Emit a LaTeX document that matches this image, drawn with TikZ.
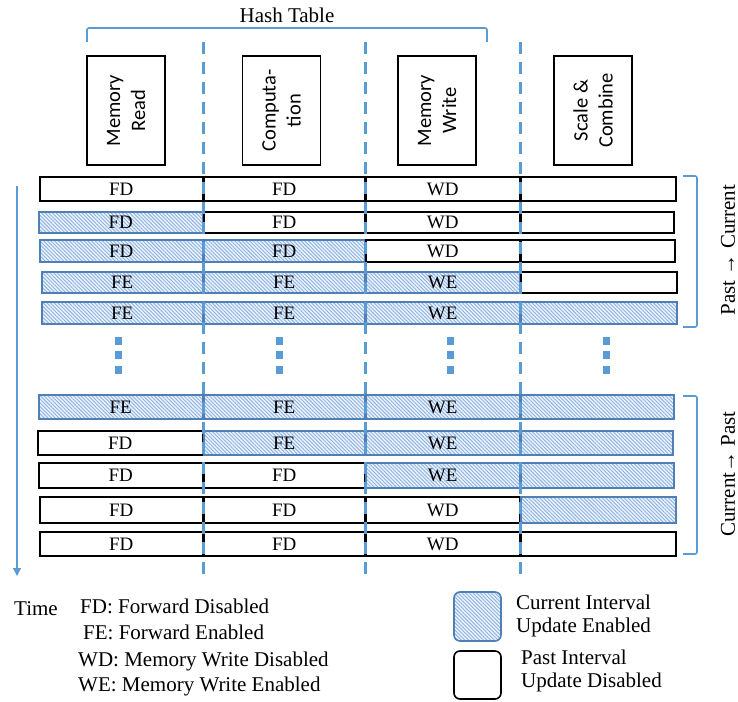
\documentclass[tikz,border=0pt]{standalone}
\usepackage{fontspec}
\setmainfont{Liberation Serif}
\newfontfamily\hdrfont{Carlito}
\usetikzlibrary{patterns.meta,arrows.meta}
\definecolor{dashblue}{HTML}{5B9BD5}
\definecolor{edgeblue}{HTML}{4F7FB5}
\definecolor{hatchbg}{HTML}{EAF1FA}
\definecolor{hatchfg}{HTML}{8DB3E2}
\newcommand\segfont{\fontsize{19}{20}\selectfont}
\newcommand\legfont{\fontsize{21}{24}\selectfont}
\begin{document}
\begin{tikzpicture}[x=1pt,y=-1pt,
  past/.style={draw=black,line width=1.6pt,fill=white},
  cur/.style={draw=edgeblue,line width=1.6pt,preaction={fill=hatchbg},
    pattern={Lines[angle=-45,distance=2.6pt,line width=0.9pt]},pattern color=hatchfg},
  stage/.style={draw=black,line width=1.6pt,rotate=90,align=center,
    minimum width=109pt,minimum height=78pt,inner sep=0pt,
    font=\hdrfont\fontsize{20.5}{25}\selectfont},
  divider/.style={dashblue,line width=3pt,dash pattern=on 12pt off 8pt},
  brace/.style={dashblue,line width=1.6pt,rounded corners=2pt},
  dotmark/.style={fill=dashblue,minimum width=7pt,minimum height=8pt,inner sep=0pt},
  legtext/.style={font=\legfont,anchor=west,inner sep=0pt}]
\useasboundingbox (0,0) rectangle (738,701);

% pipeline stages
\node[stage] (h1) at (126,110.5) {Memory\\Read};
\node[stage] (h2) at (281.5,110.5) {Computa-\\tion};
\node[stage] (h3) at (437,110.5) {Memory\\Write};
\node[stage] (h4) at (593,110.5) {Scale \&\\Combine};

% hash table group
\node[font=\legfont] (ht) at (287,15) {Hash Table};
\coordinate (hb1) at (87,42);
\coordinate (hb2) at (487,42);
\draw[brace] (hb1) -- ++(0,-14) -- ([yshift=14pt]hb2) -- (hb2);

% interval rows: index/top/bottom/left/right/styles/labels
\foreach \r/\t/\b/\l/\e/\sa/\sb/\sc/\sd/\la/\lb/\lc in {
  1/177/201/40/676/past/past/past/past/FD/FD/WD,
  2/212/233/39/674/cur/past/past/past/FD/FD/WD,
  3/240/262/40/675/cur/cur/past/past/FD/FD/WD,
  4/272/293/42/677/cur/cur/cur/past/FE/FE/WE,
  5/302/324/42/677/cur/cur/cur/cur/FE/FE/WE,
  6/395/419/39/674/cur/cur/cur/cur/FE/FE/WE,
  7/431/455/38/673/past/cur/cur/cur/FD/FE/WE,
  8/463/488/39/674/past/past/cur/cur/FD/FD/WE,
  9/497/523/40/676/past/past/past/cur/FD/FD/WD,
  10/532/556/40/676/past/past/past/past/FD/FD/WD}{
  \node[\sa,inner sep=0pt,font=\segfont,minimum width={(202.5-\l)*1pt},
    minimum height={(\b-\t)*1pt}] (s\r a) at ({(\l+202.5)/2},{(\t+\b)/2}) {\la};
  \node[\sb,inner sep=0pt,font=\segfont,minimum width=160.5pt,
    minimum height={(\b-\t)*1pt}] (s\r b) at (284.25,{(\t+\b)/2}) {\lb};
  \node[\sc,inner sep=0pt,font=\segfont,minimum width=153.5pt,
    minimum height={(\b-\t)*1pt}] (s\r c) at (442.75,{(\t+\b)/2}) {\lc};
  \node[\sd,inner sep=0pt,minimum width={(\e-521)*1pt},
    minimum height={(\b-\t)*1pt}] (s\r d) at ({(\e+521)/2},{(\t+\b)/2}) {};
}

% stage dividers
\foreach \i/\x in {1/203,2/365,3/520}{
  \coordinate (d\i t) at (\x,42);
  \coordinate (d\i b) at (\x,575);
  \draw[divider] (d\i t) -- (d\i b);
}

% continuation dots
\foreach \i/\x in {1/118,2/279,3/450,4/606}{
  \foreach \j/\y in {1/341,2/355,3/370}{
    \node[dotmark] (dot\i\j) at (\x,\y) {};
  }
}

% phase brackets
\coordinate (pa) at (683,176);
\coordinate (pb) at (683,327);
\draw[brace] (pa) -- ++(14,0) |- (pb);
\node[font=\legfont,rotate=90,inner sep=0pt] (pc) at (728,250) {Past \textrightarrow\ Current};
\coordinate (qa) at (683,396);
\coordinate (qb) at (683,554);
\draw[brace] (qa) -- ++(14,0) |- (qb);
\node[font=\legfont,rotate=90,inner sep=0pt] (qc) at (728,474) {Current\textrightarrow\ Past};

% time axis
\coordinate (t0) at (17,186);
\coordinate (t1) at (17,576);
\draw[dashblue,line width=1.3pt,-{Triangle[length=8pt,width=8pt]}] (t0) -- (t1);
\node[font=\legfont] (time) at (36,609) {Time};

% legend
\node[legtext] (l1) at (80,606) {FD: Forward Disabled};
\node[legtext] (l2) at (83,632) {FE: Forward Enabled};
\node[legtext] (l3) at (78,661) {WD: Memory Write Disabled};
\node[legtext] (l4) at (78,686) {WE: Memory Write Enabled};

\draw[cur,rounded corners=6pt] (454,592) rectangle (501,641);
\draw[past,rounded corners=6pt] (454,651) rectangle (501,699);
\node[legtext] (k1) at (516,602) {Current Interval};
\node[legtext] (k2) at (516,627) {Update Enabled};
\node[legtext] (k3) at (521,657) {Past Interval};
\node[legtext] (k4) at (521,682) {Update Disabled};
\end{tikzpicture}
\end{document}
